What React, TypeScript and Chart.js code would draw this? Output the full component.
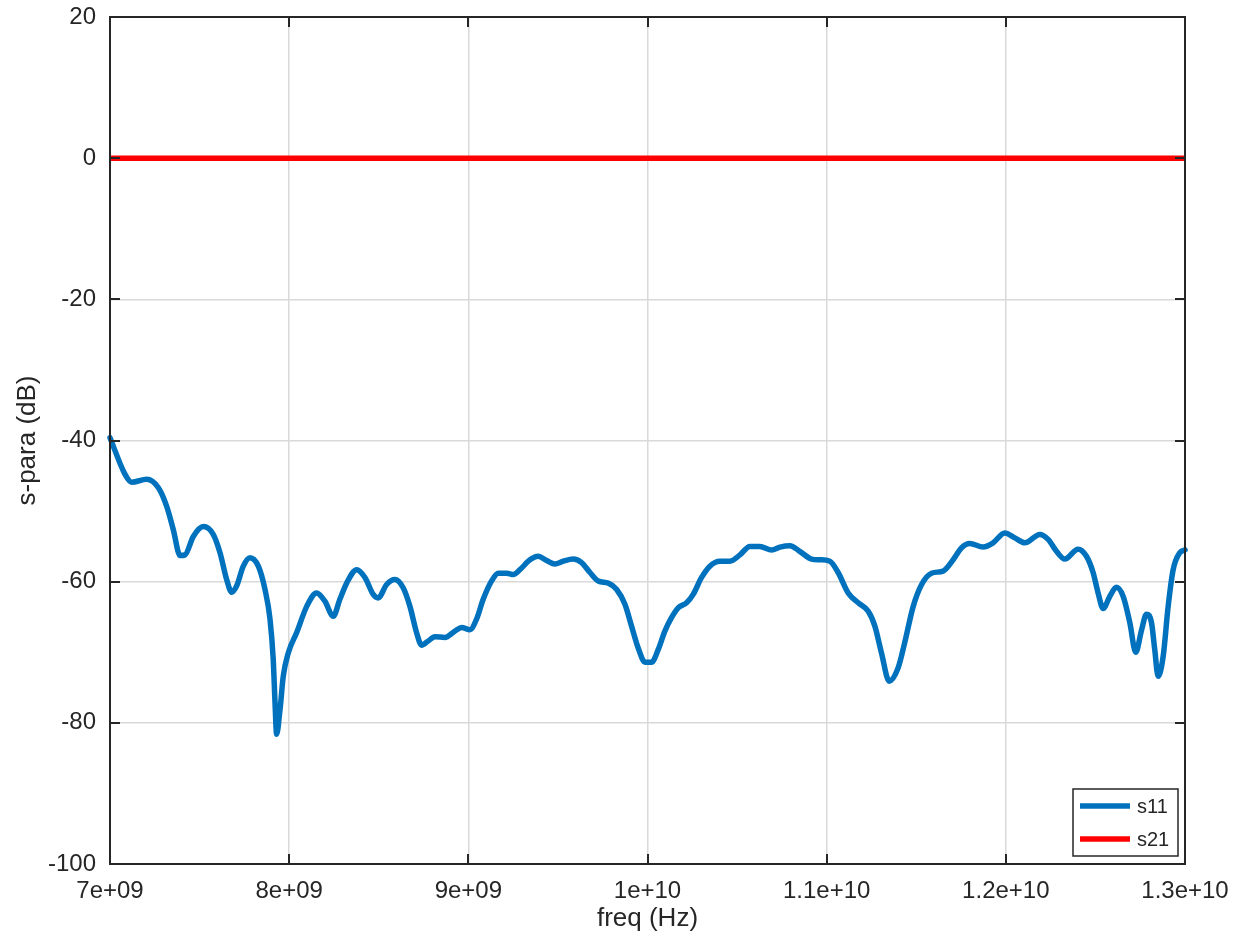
import React, { useEffect, useRef } from "react";
import { Chart, registerables } from "chart.js";

Chart.register(...registerables);

// ---- data ----
const s11FreqGHz = [
  7.0, 7.084, 7.121, 7.205, 7.27, 7.316, 7.353, 7.391, 7.419, 7.465, 7.521, 7.576, 7.614, 7.651, 7.679,
  7.707, 7.744, 7.781, 7.828, 7.865, 7.893, 7.911, 7.921, 7.93, 7.949, 7.967, 7.995, 8.042, 8.098, 8.153,
  8.2, 8.246, 8.283, 8.321, 8.377, 8.423, 8.469, 8.497, 8.544, 8.59, 8.637, 8.674, 8.711, 8.739, 8.776,
  8.814, 8.869, 8.925, 8.963, 9.009, 9.046, 9.083, 9.13, 9.167, 9.214, 9.251, 9.288, 9.344, 9.39, 9.437,
  9.483, 9.53, 9.585, 9.632, 9.679, 9.725, 9.781, 9.828, 9.874, 9.911, 9.948, 9.986, 10.023, 10.06, 10.097,
  10.134, 10.171, 10.218, 10.255, 10.302, 10.348, 10.404, 10.46, 10.516, 10.571, 10.627, 10.693, 10.739,
  10.795, 10.85, 10.916, 10.962, 11.018, 11.064, 11.12, 11.176, 11.232, 11.269, 11.306, 11.349, 11.399,
  11.436, 11.483, 11.53, 11.585, 11.65, 11.706, 11.753, 11.799, 11.873, 11.929, 11.994, 12.05, 12.106,
  12.19, 12.236, 12.283, 12.329, 12.403, 12.45, 12.487, 12.515, 12.543, 12.58, 12.617, 12.655, 12.692,
  12.725, 12.758, 12.785, 12.813, 12.831, 12.85, 12.878, 12.906, 12.934, 12.971, 13.0,
];
const s11dB = [
  -39.6, -44.8, -45.9, -45.5, -46.7, -49.3, -52.6, -56.3, -56.2, -53.6, -52.2, -53.3, -55.9, -59.7, -61.5,
  -60.6, -57.8, -56.6, -57.8, -61.1, -65.3, -71.0, -77.1, -81.6, -78.1, -73.4, -70.1, -67.2, -63.5, -61.6,
  -62.8, -64.9, -62.5, -60.2, -58.3, -59.4, -61.8, -62.3, -60.4, -59.7, -60.9, -63.5, -67.2, -69.0, -68.4,
  -67.8, -67.9, -67.0, -66.5, -66.8, -65.3, -62.5, -59.9, -58.8, -58.8, -59.0, -58.3, -56.9, -56.4, -57.0,
  -57.5, -57.1, -56.8, -57.3, -58.7, -59.9, -60.2, -61.1, -63.2, -66.3, -69.4, -71.4, -71.4, -69.6, -67.0,
  -65.1, -63.7, -63.0, -61.8, -59.4, -57.8, -57.1, -57.1, -56.2, -55.0, -55.0, -55.5, -55.1,
  -54.9, -55.7, -56.8, -56.9, -57.1, -58.7, -61.6, -63.0, -64.2, -66.3, -70.1, -74.1, -72.2,
  -68.6, -63.5, -60.4, -58.8, -58.5, -56.9, -55.2, -54.6, -55.1, -54.5, -53.1, -53.8, -54.5,
  -53.3, -54.0, -55.7, -56.8, -55.4, -56.4, -58.7, -61.6, -63.8, -62.1, -60.8, -62.1, -65.8,
  -70.0, -66.8, -64.6, -65.8, -69.6, -73.4, -70.6, -63.5, -58.3, -55.9, -55.5,
];
const s21FreqGHz = [7.0, 13.0];
const s21dB = [0, 0];

const seriesLabels = ["s11", "s21"];
const xTickMinHz = 7e9;
const xTickMaxHz = 1.3e10;
const xTickStepHz = 1e9;
const yTickMin = -100;
const yTickMax = 20;
const yTickStep = 20;
const xTitle = "freq (Hz)";
const yTitle = "s-para (dB)";

const FONT = "'Liberation Sans', Arial, Helvetica, sans-serif";
const TEXT = "#262626";
const GRID = "#d9d9d9";

function sci(v: number): string {
  if (v === 0) return "0";
  const e = Math.floor(Math.log10(Math.abs(v)) + 1e-9);
  const m = parseFloat((v / Math.pow(10, e)).toPrecision(5));
  return `${m}e${e >= 0 ? "+" : "-"}${String(Math.abs(e)).padStart(2, "0")}`;
}

const framePlugin = {
  id: "octaveFrame",
  afterDatasetsDraw(chart: any) {
    const { ctx, chartArea } = chart;
    const { left, right, top, bottom } = chartArea;
    const xs = chart.scales.x;
    const ys = chart.scales.y;
    const tl = 10;
    ctx.save();
    ctx.strokeStyle = TEXT;
    ctx.lineWidth = 2;
    ctx.beginPath();
    xs.ticks.forEach((t: any) => {
      const px = Math.round(xs.getPixelForValue(t.value));
      ctx.moveTo(px, bottom);
      ctx.lineTo(px, bottom - tl);
      ctx.moveTo(px, top);
      ctx.lineTo(px, top + tl);
    });
    ys.ticks.forEach((t: any) => {
      const py = Math.round(ys.getPixelForValue(t.value));
      ctx.moveTo(left, py);
      ctx.lineTo(left + tl, py);
      ctx.moveTo(right, py);
      ctx.lineTo(right - tl, py);
    });
    ctx.stroke();
    ctx.strokeRect(left, top, right - left, bottom - top);

    // legend box (inside, bottom-right)
    const w = 105;
    const h = 67;
    const lx = right - 112;
    const ly = bottom - 75;
    ctx.fillStyle = "#ffffff";
    ctx.fillRect(lx, ly, w, h);
    ctx.lineWidth = 1.5;
    ctx.strokeRect(lx, ly, w, h);
    chart.data.datasets.forEach((ds: any, i: number) => {
      const yy = ly + 17 + i * 33;
      ctx.strokeStyle = ds.borderColor;
      ctx.lineWidth = 5.5;
      ctx.beginPath();
      ctx.moveTo(lx + 7, yy);
      ctx.lineTo(lx + 57, yy);
      ctx.stroke();
      ctx.fillStyle = TEXT;
      ctx.font = `20px ${FONT}`;
      ctx.textBaseline = "middle";
      ctx.textAlign = "left";
      ctx.fillText(ds.label, lx + 64, yy + 1);
    });
    ctx.restore();
  },
};

export default function App() {
  const ref = useRef<HTMLCanvasElement | null>(null);

  useEffect(() => {
    if (!ref.current) return;
    const s11 = s11FreqGHz.map((f, i) => ({ x: f * 1e9, y: s11dB[i] }));
    const s21 = s21FreqGHz.map((f, i) => ({ x: f * 1e9, y: s21dB[i] }));
    const chart = new Chart(ref.current, {
      type: "line",
      data: {
        datasets: [
          {
            label: seriesLabels[0],
            data: s11,
            borderColor: "#0072BD",
            borderWidth: 5.5,
            pointRadius: 0,
            cubicInterpolationMode: "monotone",
            borderJoinStyle: "round",
            borderCapStyle: "round",
            fill: false,
          },
          {
            label: seriesLabels[1],
            data: s21,
            borderColor: "#FF0000",
            borderWidth: 5.5,
            pointRadius: 0,
            tension: 0,
            fill: false,
          },
        ],
      },
      options: {
        responsive: false,
        animation: false,
        clip: false as any,
        layout: { padding: { top: 17, right: 60, left: 0, bottom: 0 } },
        plugins: {
          legend: { display: false },
          tooltip: { enabled: false },
        },
        scales: {
          x: {
            type: "linear",
            min: xTickMinHz,
            max: xTickMaxHz,
            afterBuildTicks: (scale: any) => {
              const ticks = [];
              for (let v = xTickMinHz; v <= xTickMaxHz + 1; v += xTickStepHz) ticks.push({ value: v });
              scale.ticks = ticks;
            },
            afterFit: (scale: any) => {
              scale.height = 70;
              scale.paddingLeft = 0;
              scale.paddingRight = 0;
            },
            grid: { color: GRID, lineWidth: 1.5, drawTicks: false },
            border: { display: false },
            ticks: {
              padding: 13,
              maxRotation: 0,
              autoSkip: false,
              color: TEXT,
              font: { family: FONT, size: 24 },
              callback: (v: any) => sci(Number(v)),
            },
            title: {
              display: true,
              text: xTitle,
              color: TEXT,
              font: { family: FONT, size: 26 },
              padding: { top: 0, bottom: 0 },
            },
          },
          y: {
            type: "linear",
            min: yTickMin,
            max: yTickMax,
            afterFit: (scale: any) => {
              scale.width = 110;
              scale.paddingTop = 0;
              scale.paddingBottom = 0;
            },
            grid: { color: GRID, lineWidth: 1.5, drawTicks: false },
            border: { display: false },
            ticks: {
              stepSize: yTickStep,
              padding: 14,
              color: TEXT,
              font: { family: FONT, size: 24 },
            },
            title: {
              display: true,
              text: yTitle,
              color: TEXT,
              font: { family: FONT, size: 26 },
              padding: { top: 12, bottom: 0 },
            },
          },
        },
      },
      plugins: [framePlugin],
    });
    return () => chart.destroy();
  }, []);

  return (
    <div style={{ position: "absolute", left: 0, top: 0, width: 1245, height: 934, background: "#fff" }}>
      <canvas ref={ref} width={1245} height={934} style={{ display: "block" }} />
    </div>
  );
}
